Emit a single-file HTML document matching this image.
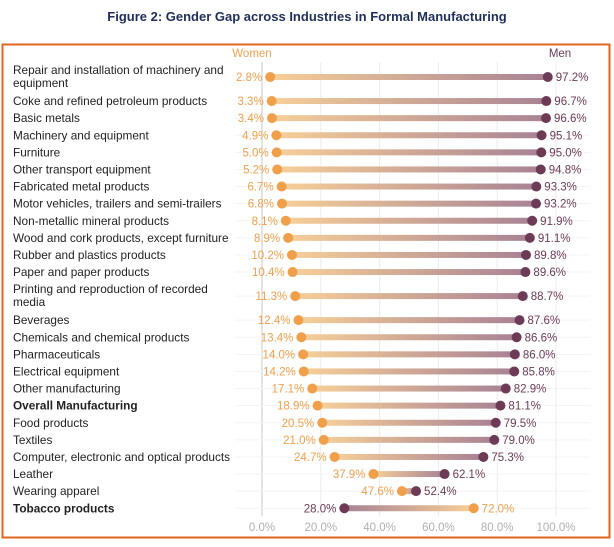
<!DOCTYPE html>
<html><head><meta charset="utf-8"><style>
body{margin:0;background:#fff;width:614px;height:542px;overflow:hidden;font-family:"Liberation Sans",sans-serif}
</style></head><body>
<svg id="c" width="614" height="542" xmlns="http://www.w3.org/2000/svg" font-family="Liberation Sans, sans-serif">
<defs>
<linearGradient id="gw" x1="0" x2="1"><stop offset="0" stop-color="#f7cf98"/><stop offset="1" stop-color="#a88294"/></linearGradient>
<linearGradient id="gm" x1="0" x2="1"><stop offset="0" stop-color="#a88294"/><stop offset="1" stop-color="#f7cf98"/></linearGradient>
</defs>
<text x="307" y="21" text-anchor="middle" font-size="13" font-weight="bold" fill="#1f2f5a">Figure 2: Gender Gap across Industries in Formal Manufacturing</text>
<rect x="2.5" y="44.5" width="607" height="493" fill="none" stroke="#e0651e" stroke-width="2"/>
<g id="grid"></g><g id="rows"></g><g id="axis"></g>
</svg>
<script>
const categories=["Repair and installation of machinery and|equipment","Coke and refined petroleum products","Basic metals","Machinery and equipment","Furniture","Other transport equipment","Fabricated metal products","Motor vehicles, trailers and semi-trailers","Non-metallic mineral products","Wood and cork products, except furniture","Rubber and plastics products","Paper and paper products","Printing and reproduction of recorded|media","Beverages","Chemicals and chemical products","Pharmaceuticals","Electrical equipment","Other manufacturing","Overall Manufacturing","Food products","Textiles","Computer, electronic and optical products","Leather","Wearing apparel","Tobacco products"];
const women=[2.8,3.3,3.4,4.9,5.0,5.2,6.7,6.8,8.1,8.9,10.2,10.4,11.3,12.4,13.4,14.0,14.2,17.1,18.9,20.5,21.0,24.7,37.9,47.6,72.0];
const men=[97.2,96.7,96.6,95.1,95.0,94.8,93.3,93.2,91.9,91.1,89.8,89.6,88.7,87.6,86.6,86.0,85.8,82.9,81.1,79.5,79.0,75.3,62.1,52.4,28.0];
const boldRows=["Overall Manufacturing","Tobacco products"];
const ticks=[0,20,40,60,80,100];
const NS="http://www.w3.org/2000/svg";
const X=v=>262+v*2.94;
function mk(t,a,p){const e=document.createElementNS(NS,t);for(const k in a)e.setAttribute(k,a[k]);p.appendChild(e);return e;}
const grid=document.getElementById('grid'),rows=document.getElementById('rows'),axis=document.getElementById('axis');
const ys=[];let cur=61.5;
categories.forEach(c=>{const h=c.includes('|')?31:17.1;ys.push(cur+h/2);cur+=h;});
ticks.forEach(t=>{
 const l=mk('line',{x1:X(t),x2:X(t),y1:62,y2:516,stroke:t===0?'#c8c8c8':'#ebebeb','stroke-width':1},grid);
 
 
 const tx=mk('text',{x:X(t),y:531,'text-anchor':'middle','font-size':11.5,fill:'#b0b0b0'},axis);
 tx.textContent=t.toFixed(1)+'%';
 
 
});
const hw=mk('text',{x:252,y:57,'text-anchor':'middle','font-size':11.5,fill:'#f0a04b'},axis);hw.textContent='Women';


const hm=mk('text',{x:560,y:57,'text-anchor':'middle','font-size':11.5,fill:'#6e3b57'},axis);hm.textContent='Men';


categories.forEach((c,i)=>{
 const y=ys[i],g=mk('g',{},rows);
 
 
 mk('line',{x1:235,x2:590,y1:y,y2:y,stroke:'#f3f3f3','stroke-width':1},g);
 const parts=c.split('|');
 const lt=mk('text',{x:13,y:parts.length>1?y-3:y+4,'font-size':11.8,fill:'#222','font-weight':boldRows.includes(c)?'bold':'normal'},g);
 
 
 parts.forEach((p,j)=>{const s=mk('tspan',{x:13,dy:j?13:0},lt);s.textContent=p;});
 const w=X(women[i]),m=X(men[i]),lo=Math.min(w,m),hi=Math.max(w,m);
 mk('rect',{x:lo,y:y-3,width:hi-lo,height:6,fill:w<m?'url(#gw)':'url(#gm)'},g);
 const dw=mk('circle',{cx:w,cy:y,r:5,fill:'#f0a04b'},g);
 
 
 const dm=mk('circle',{cx:m,cy:y,r:5,fill:'#6e3b57'},g);
 
 
 const wl=w<m;
 const tw=mk('text',{x:wl?w-8:w+8,y:y+4,'text-anchor':wl?'end':'start','font-size':11.5,fill:'#f0a04b'},g);tw.textContent=women[i].toFixed(1)+'%';
 
 
 const tm=mk('text',{x:wl?m+8:m-8,y:y+4,'text-anchor':wl?'start':'end','font-size':11.5,fill:'#6e3b57'},g);tm.textContent=men[i].toFixed(1)+'%';
 
 
});
</script>
</body></html>
